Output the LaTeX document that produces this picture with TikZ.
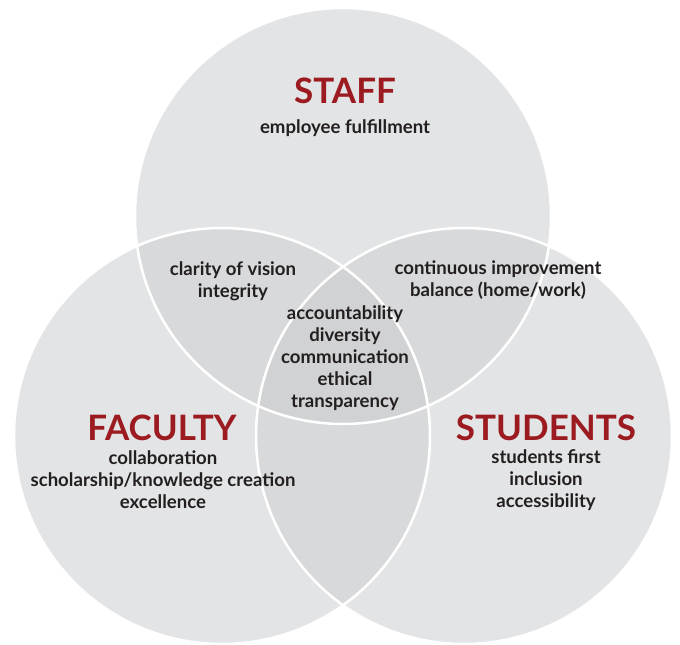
\documentclass[tikz,border=0pt]{standalone}
\usepackage{fontspec}
\setmainfont{Lato}
\definecolor{venngray}{HTML}{E3E4E6}
\definecolor{lensgray}{HTML}{D8D9DB}
\definecolor{coregray}{HTML}{D1D2D4}
\definecolor{titlered}{HTML}{9B1B20}
\definecolor{textdark}{HTML}{231F20}

\begin{document}
\begin{tikzpicture}[x=1pt,y=-1pt]
        \useasboundingbox (0,0) rectangle (680,645);
        \coordinate (cS) at (343,216);
        \coordinate (cF) at (222,436);
        \coordinate (cT) at (464,436);

        % circles and overlaps
        \fill[venngray] (cS) circle (208pt) (cF) circle (208pt) (cT) circle (208pt);
        \begin{scope}
            \clip (cS) circle (208pt);
            \fill[lensgray] (cF) circle (208pt) (cT) circle (208pt);
        \end{scope}
        \begin{scope}
            \clip (cF) circle (208pt);
            \fill[lensgray] (cT) circle (208pt);
        \end{scope}
        \begin{scope}
            \clip (cS) circle (208pt);
            \clip (cF) circle (208pt);
            \fill[coregray] (cT) circle (208pt);
        \end{scope}
        \draw[white, line width=2.5pt] (cS) circle (208pt) (cF) circle (208pt) (cT) circle (208pt);

        \begin{scope}[every node/.style={text=titlered, font=\bfseries\fontsize{35}{38}\selectfont}]
            \node (staff) at (345, 91) {STAFF};
            \node (faculty) at (162, 428) {FACULTY};
            \node (students) at (546, 428) {STUDENTS};
        \end{scope}
        \begin{scope}[every node/.style={text=textdark, align=center, font=\bfseries\fontsize{18.6}{22}\selectfont}]
            \node (staffv) at (345, 128) {employee fulfillment};
            \node (sfv) at (233, 281) {clarity of vision\\integrity};
            \node (stv) at (498, 280) {continuous improvement\\balance (home/work)};
            \node (allv) at (345, 358.5) {accountability\\diversity\\communication\\ethical\\transparency};
            \node (facultyv) at (163, 480) {collaboration\\scholarship/knowledge creation\\excellence};
            \node (studentsv) at (546, 480) {students first\\inclusion\\accessibility};
        \end{scope}
    \end{tikzpicture}
\end{document}
